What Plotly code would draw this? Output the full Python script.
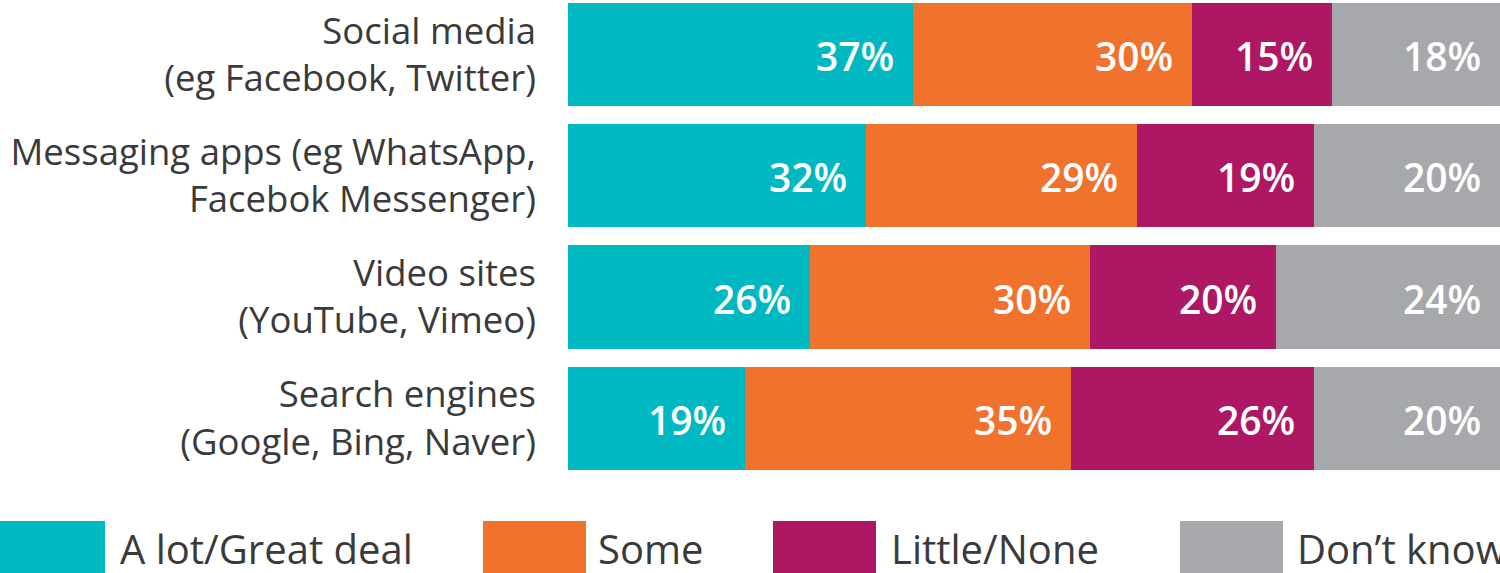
import plotly.graph_objects as go

categories = [
    "Social media<br>(eg Facebook, Twitter)",
    "Messaging apps (eg WhatsApp,<br>Facebok Messenger)",
    "Video sites<br>(YouTube, Vimeo)",
    "Search engines<br>(Google, Bing, Naver)",
]
series_names = ["A lot/Great deal", "Some", "Little/None", "Don\u2019t know"]
a_lot = [37, 32, 26, 19]
some = [30, 29, 30, 35]
little = [15, 19, 20, 26]
dont_know = [18, 20, 24, 20]
series_values = [a_lot, some, little, dont_know]
colors = ["#00B8C1", "#F0722D", "#AD1763", "#A7A8AB"]

W, H = 1500, 573
TXT = "#3a3a3a"
FONT = "Open Sans"


def px(x):
    return x / W


def py(y):
    return 1 - y / H


fig = go.Figure()
ypos = list(range(len(categories)))
for name, vals, col in zip(series_names, series_values, colors):
    fig.add_trace(go.Bar(
        y=ypos, x=vals, orientation="h", name=name,
        marker=dict(color=col, line=dict(width=0)),
        width=0.85, showlegend=False, hoverinfo="skip",
    ))

# value labels at right end of each segment
annotations = []
for i in ypos:
    cum = 0
    for vals in series_values:
        cum += vals[i]
        annotations.append(dict(
            x=cum, y=i, xref="x", yref="y", text=f"{vals[i]}%",
            showarrow=False, xanchor="right", yanchor="middle", xshift=-17, yshift=-1,
            font=dict(family=FONT, size=39, color="white", weight=600),
        ))

# legend (custom squares + labels)
leg_boxes = [(0, 105), (483, 586), (773, 876), (1180, 1283)]
leg_text_x = [118, 596, 889, 1295]
shapes = []
for (x0, x1), tx, col, name in zip(leg_boxes, leg_text_x, colors, series_names):
    shapes.append(dict(type="rect", xref="paper", yref="paper",
                       x0=px(x0), x1=px(x1), y0=py(580), y1=py(521),
                       fillcolor=col, line=dict(width=0)))
    annotations.append(dict(x=px(tx), y=py(548), xref="paper", yref="paper",
                            text=name, showarrow=False, xanchor="left", yanchor="middle",
                            font=dict(family=FONT, size=40, color=TXT)))

pitch = 121.25
plot_h = 490
r0 = -54.5 / pitch
r1 = r0 + plot_h / pitch

fig.update_layout(
    width=W, height=H,
    margin=dict(l=0, r=0, t=0, b=0),
    plot_bgcolor="white", paper_bgcolor="white",
    barmode="stack",
    xaxis=dict(domain=[px(568), 1], range=[0, 100], visible=False, fixedrange=True),
    yaxis=dict(domain=[1 - plot_h / H, 1], range=[r1, r0], tickmode="array",
               tickvals=ypos, ticktext=categories, showgrid=False, zeroline=False,
               showline=False, ticks="", ticklabelstandoff=31, fixedrange=True,
               tickfont=dict(family=FONT, size=36.5, color=TXT)),
    annotations=annotations,
    shapes=shapes,
    font=dict(family=FONT),
)

fig.write_html(
    "out.html",
    config={"displayModeBar": False},
    post_script="document.body.style.margin='0';document.body.style.overflow='hidden';",
)
